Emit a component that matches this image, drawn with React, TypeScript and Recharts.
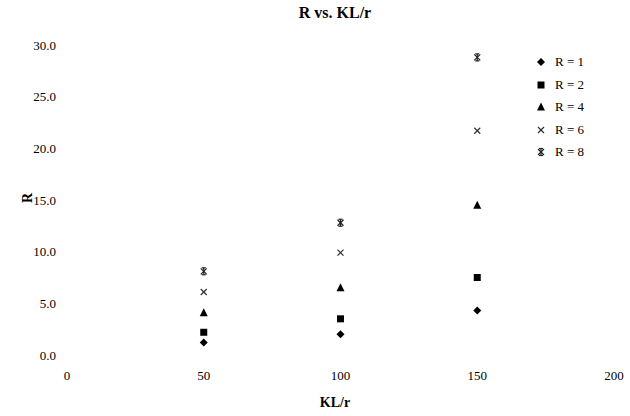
import { ScatterChart, Scatter, XAxis, YAxis } from 'recharts';

const klr = [50, 100, 150];
const r1 = [1.2, 2.0, 4.3];
const r2 = [2.2, 3.5, 7.5];
const r4 = [4.1, 6.5, 14.5];
const r6 = [6.1, 9.9, 21.7];
const r8 = [8.1, 12.8, 28.8];
const xTicks = [0, 50, 100, 150, 200];
const yTicks = [0, 5, 10, 15, 20, 25, 30];

type Kind = 'diamond' | 'square' | 'triangle' | 'cross' | 'star';

const series: { name: string; kind: Kind; values: number[] }[] = [
  { name: 'R = 1', kind: 'diamond', values: r1 },
  { name: 'R = 2', kind: 'square', values: r2 },
  { name: 'R = 4', kind: 'triangle', values: r4 },
  { name: 'R = 6', kind: 'cross', values: r6 },
  { name: 'R = 8', kind: 'star', values: r8 },
];

const font = '"Liberation Serif", "Times New Roman", serif';

function Marker({ kind, cx, cy }: { kind: Kind; cx: number; cy: number }) {
  if (kind === 'diamond')
    return <polygon points={`${cx},${cy - 4} ${cx + 4},${cy} ${cx},${cy + 4} ${cx - 4},${cy}`} fill="#000" />;
  if (kind === 'square') return <rect x={cx - 3.5} y={cy - 3.5} width={7} height={7} fill="#000" />;
  if (kind === 'triangle')
    return <polygon points={`${cx},${cy - 4.5} ${cx + 4},${cy + 3.5} ${cx - 4},${cy + 3.5}`} fill="#000" />;
  if (kind === 'cross')
    return (
      <g stroke="#333" strokeWidth={1.2}>
        <line x1={cx - 3} y1={cy - 3} x2={cx + 3} y2={cy + 3} />
        <line x1={cx - 3} y1={cy + 3} x2={cx + 3} y2={cy - 3} />
      </g>
    );
  return (
    <g stroke="#222" strokeWidth={1.2}>
      <line x1={cx - 3} y1={cy - 3} x2={cx + 3} y2={cy + 3} />
      <line x1={cx - 3} y1={cy + 3} x2={cx + 3} y2={cy - 3} />
      <line x1={cx} y1={cy - 3.5} x2={cx} y2={cy + 3.5} />
      <line x1={cx - 2} y1={cy - 3.5} x2={cx + 2} y2={cy - 3.5} />
      <line x1={cx - 2} y1={cy + 3.5} x2={cx + 2} y2={cy + 3.5} />
    </g>
  );
}

function LegendBox() {
  return (
    <div style={{ position: 'absolute', top: 51, left: 535, fontFamily: font, fontSize: 13, color: '#000' }}>
      {series.map(s => (
        <div key={s.name} style={{ display: 'flex', alignItems: 'center', height: 22.5 }}>
          <svg width={12} height={12} style={{ marginRight: 8 }}>
            <Marker kind={s.kind} cx={6} cy={6} />
          </svg>
          <span>{s.name}</span>
        </div>
      ))}
    </div>
  );
}

export default function App() {
  const tick = { fill: '#000', fontSize: 13, fontFamily: font };
  return (
    <div style={{ position: 'absolute', left: 0, top: 0, width: 630, height: 416, background: '#fff', fontFamily: font }}>
      <div style={{ position: 'absolute', top: 4, left: 0, width: 670, textAlign: 'center', fontWeight: 'bold', fontSize: 16 }}>
        R vs. KL/r
      </div>
      <ScatterChart width={630} height={416} margin={{ top: 45, right: 16, bottom: 31, left: 0 }}>
        <XAxis type="number" dataKey="x" domain={[0, 200]} ticks={xTicks} axisLine={false} tickLine={false}
          tick={tick} tickMargin={10} height={30} />
        <YAxis type="number" dataKey="y" domain={[0, 30]} ticks={yTicks} axisLine={false} tickLine={false}
          tick={tick} tickMargin={5} width={67} tickFormatter={(v: number) => v.toFixed(1)} />
        {series.map(s => (
          <Scatter key={s.name} name={s.name} isAnimationActive={false}
            data={klr.map((x, i) => ({ x, y: s.values[i] }))}
            shape={(p: any) => <Marker kind={s.kind} cx={p.cx} cy={p.cy} />} />
        ))}
      </ScatterChart>
      <LegendBox />
      <div style={{ position: 'absolute', top: 395, left: 0, width: 670, textAlign: 'center', fontWeight: 'bold', fontSize: 14 }}>
        KL/r
      </div>
      <div style={{ position: 'absolute', left: 23, top: 190, fontWeight: 'bold', fontSize: 14, transform: 'rotate(-90deg)' }}>
        R
      </div>
    </div>
  );
}
